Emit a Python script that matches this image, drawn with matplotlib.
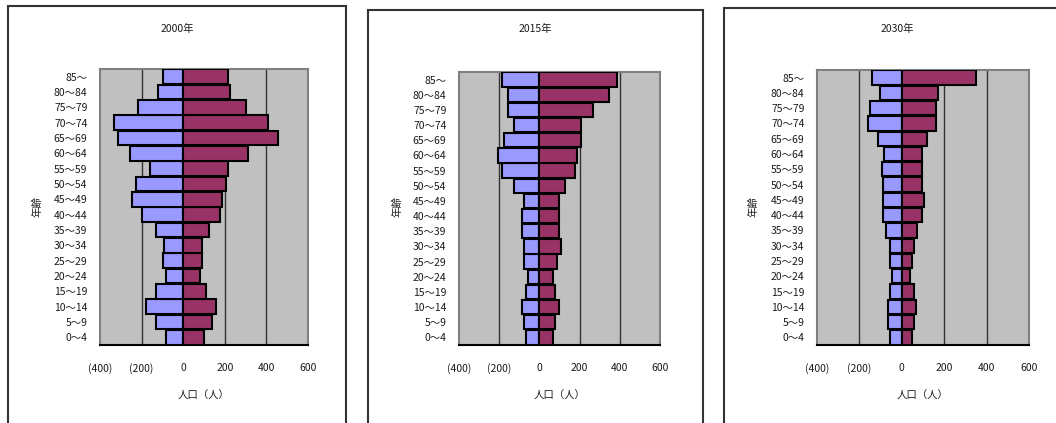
import matplotlib
matplotlib.use("Agg")
import matplotlib.pyplot as plt
from matplotlib.patches import Rectangle

plt.rcParams['font.family'] = ['Noto Sans CJK JP', 'DejaVu Sans']

# age groups, bottom to top
ages = ["0～4", "5～9", "10～14", "15～19", "20～24", "25～29", "30～34",
        "35～39", "40～44", "45～49", "50～54", "55～59", "60～64",
        "65～69", "70～74", "75～79", "80～84", "85～"]

years = ["2000年", "2015年", "2030年"]

# left side (blue) and right side (purple) populations
left_2000 = [85, 130, 180, 130, 85, 95, 90, 130, 200, 245, 225, 160, 255, 315, 335, 215, 120, 95]
right_2000 = [100, 140, 160, 110, 80, 90, 90, 125, 175, 185, 205, 215, 310, 455, 410, 300, 225, 215]

left_2015 = [68, 76, 86, 68, 58, 76, 76, 86, 86, 76, 128, 186, 207, 177, 126, 158, 158, 186]
right_2015 = [68, 78, 99, 78, 68, 88, 109, 96, 96, 99, 126, 176, 189, 207, 206, 267, 348, 386]

left_2030 = [54, 63, 63, 54, 46, 54, 54, 74, 91, 91, 91, 93, 83, 112, 161, 150, 102, 139]
right_2030 = [47, 57, 66, 57, 39, 47, 57, 74, 94, 104, 94, 94, 94, 121, 161, 161, 169, 350]

lefts = [left_2000, left_2015, left_2030]
rights = [right_2000, right_2015, right_2030]

xticks = [-400, -200, 0, 200, 400, 600]
xticklabels = ["(400)", "(200)", "0", "200", "400", "600"]

W, H = 1056, 423
fig = plt.figure(figsize=(W / 100, H / 100), dpi=100)

# pixel boxes: plot area (left, top, right, bottom) and panel frame (left, top, right)
plot_boxes = [(100, 69, 308, 345), (459, 72, 660, 345), (817, 70, 1029, 345)]
frames = [(8, 6, 346), (368, 10, 703), (724, 8, 1070)]

txt = dict(fontsize=7.5, color="#1a1a1a")

for i in range(3):
    fl, ft, fr = frames[i]
    frame = Rectangle((fl / W, -0.1), (fr - fl) / W, 1.1 - ft / H,
                      transform=fig.transFigure, fill=False,
                      edgecolor="#333333", linewidth=1.5, clip_on=False)
    fig.patches.append(frame)
    fig.text((fl + fr) / 2 / W, 1 - 29 / H, years[i], ha="center", va="center", **txt)
    fig.text((fl + 29) / W, 1 - 207 / H, "年齢", ha="center", va="center",
             rotation=90, **txt)

    l, t, r, b = plot_boxes[i]
    ax = fig.add_axes([l / W, 1 - b / H, (r - l) / W, (b - t) / H])
    ax.set_facecolor("#C0C0C0")
    pos = list(range(len(ages)))
    ax.barh(pos, [-v for v in lefts[i]], height=0.94, color="#9999FF",
            edgecolor="black", linewidth=1.5, zorder=3)
    ax.barh(pos, rights[i], height=0.94, color="#993366",
            edgecolor="black", linewidth=1.5, zorder=3)
    for g in [-200, 200, 400]:
        ax.axvline(g, color="#333333", linewidth=1, zorder=1)
    ax.set_xlim(-400, 600)
    ax.set_ylim(-0.5, len(ages) - 0.5)
    ax.set_yticks(pos)
    ax.set_yticklabels(ages, **txt)
    ax.set_xticks(xticks)
    ax.set_xticklabels(xticklabels, **txt)
    ax.tick_params(axis="both", length=0)
    ax.tick_params(axis="x", pad=13)
    ax.tick_params(axis="y", pad=9)
    ax.set_xlabel("人口（人）", labelpad=12, **txt)
    for s in ["left", "top", "right"]:
        ax.spines[s].set_color("#808080")
        ax.spines[s].set_linewidth(1.5)
    ax.spines["bottom"].set_color("black")
    ax.spines["bottom"].set_linewidth(1.5)

fig.savefig("out.png", dpi=100)
